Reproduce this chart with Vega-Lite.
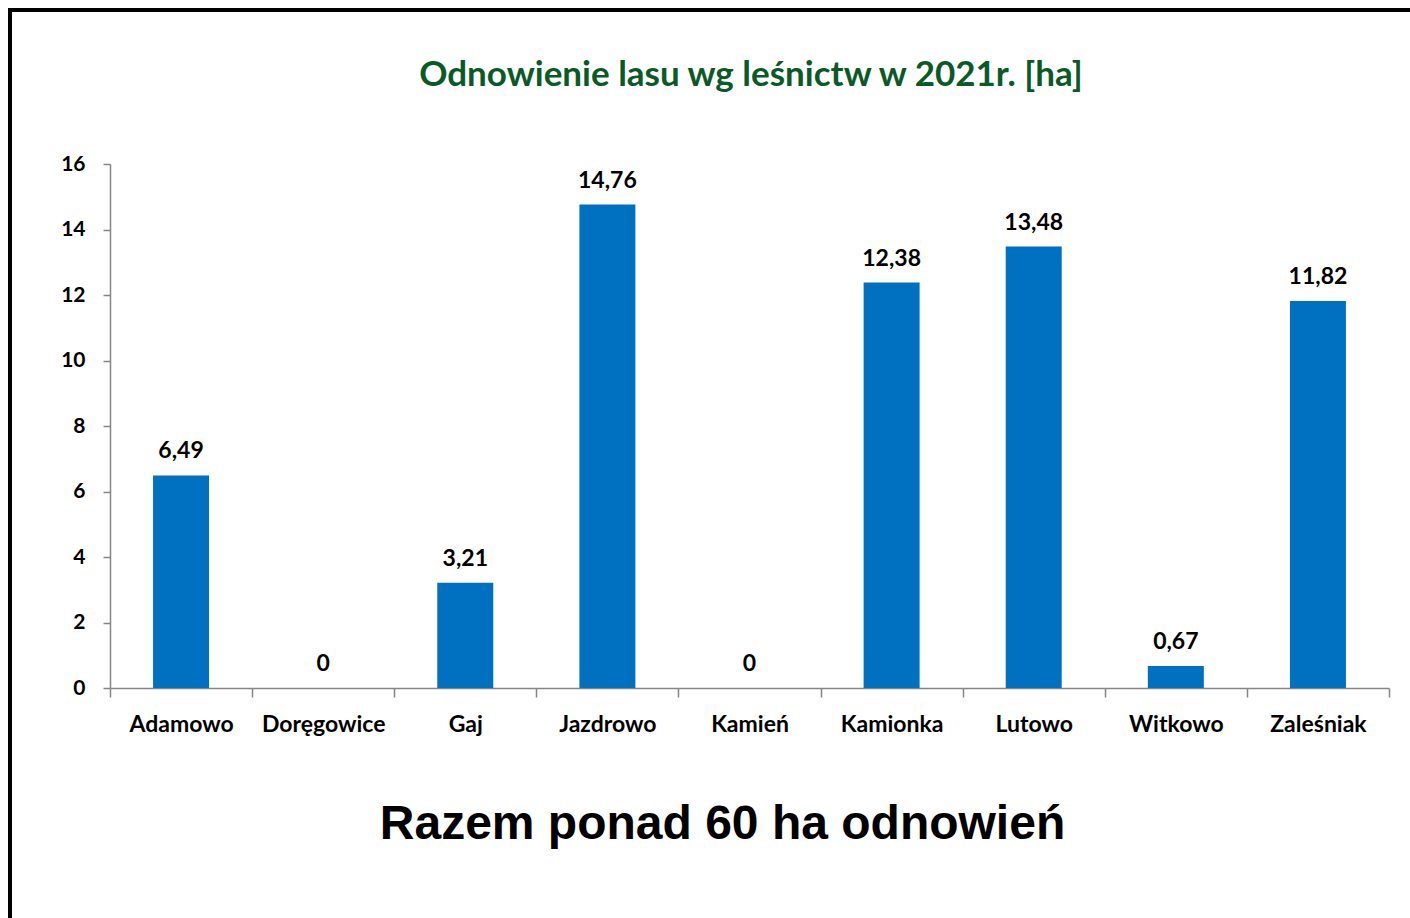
{
  "$schema": "https://vega.github.io/schema/vega-lite/v6.json",
  "width": 1404,
  "height": 912,
  "autosize": {"type": "none"},
  "padding": {"left": 10, "top": 10, "right": 0, "bottom": 0},
  "background": "white",
  "config": {
    "view": {"stroke": "black", "strokeWidth": 4},
    "locale": {"number": {"decimal": ",", "thousands": " ", "grouping": [3], "currency": ["", " zł"]}}
  },
  "title": {
    "text": "Odnowienie lasu wg leśnictw w 2021r. [ha]",
    "font": "Lato",
    "fontSize": 35,
    "fontWeight": "bold",
    "color": "#0A5A28",
    "anchor": "middle",
    "frame": "group",
    "baseline": "alphabetic",
    "offset": -111,
    "dx": 39
  },
  "data": {
    "values": [
      {"lesnictwo": "Adamowo", "ha": 6.49},
      {"lesnictwo": "Doręgowice", "ha": 0},
      {"lesnictwo": "Gaj", "ha": 3.21},
      {"lesnictwo": "Jazdrowo", "ha": 14.76},
      {"lesnictwo": "Kamień", "ha": 0},
      {"lesnictwo": "Kamionka", "ha": 12.38},
      {"lesnictwo": "Lutowo", "ha": 13.48},
      {"lesnictwo": "Witkowo", "ha": 0.67},
      {"lesnictwo": "Zaleśniak", "ha": 11.82}
    ]
  },
  "encoding": {
    "x": {
      "field": "lesnictwo",
      "type": "nominal",
      "sort": null,
      "scale": {"range": [100, 1379], "paddingInner": 0, "paddingOuter": 0},
      "axis": {
        "orient": "bottom",
        "offset": -234,
        "tickBand": "extent",
        "labelAngle": 0,
        "grid": false,
        "domainColor": "#868686",
        "tickColor": "#868686",
        "domainWidth": 1.5,
        "tickWidth": 1.5,
        "tickSize": 9,
        "labelFont": "Lato",
        "labelFontSize": 23,
        "labelFontWeight": "bold",
        "labelColor": "black",
        "labelPadding": 16,
        "title": "Razem ponad 60 ha odnowień",
        "titleFont": "Liberation Sans",
        "titleFontSize": 48,
        "titleFontWeight": "bold",
        "titleColor": "black",
        "titleAlign": "center",
        "titleBaseline": "alphabetic",
        "titleX": 712,
        "titleY": 150
      }
    },
    "y": {
      "field": "ha",
      "type": "quantitative",
      "scale": {"domain": [0, 16], "range": [678, 154], "nice": false, "zero": true},
      "axis": {
        "orient": "left",
        "offset": -100,
        "values": [0, 2, 4, 6, 8, 10, 12, 14, 16],
        "grid": false,
        "domainColor": "#868686",
        "tickColor": "#868686",
        "domainWidth": 1.5,
        "tickWidth": 1.5,
        "tickSize": 7,
        "labelFont": "Lato",
        "labelFontSize": 21,
        "labelFontWeight": "bold",
        "labelColor": "black",
        "labelPadding": 18,
        "title": null
      }
    }
  },
  "layer": [
    {"mark": {"type": "bar", "color": "#0070C0", "width": {"band": 0.394}}},
    {
      "mark": {"type": "text", "font": "Lato", "fontSize": 23, "fontWeight": "bold", "color": "black", "baseline": "alphabetic", "dy": -17},
      "encoding": {"text": {"field": "ha", "type": "quantitative", "format": ".2~f"}}
    }
  ]
}
